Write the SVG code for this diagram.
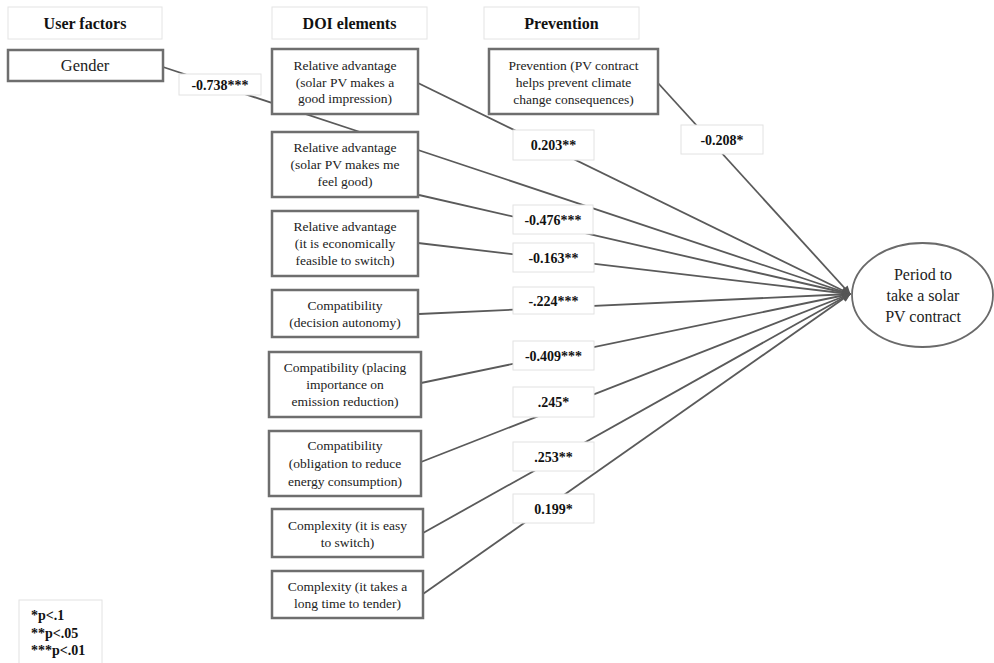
<svg xmlns="http://www.w3.org/2000/svg" width="994" height="663" viewBox="0 0 994 663">
<defs>
<style>
.hdr{fill:#fff;stroke:#e4e4e4;stroke-width:1}
.hdrt{font-family:"Liberation Serif",serif;font-weight:bold;font-size:16px;fill:#111;text-anchor:middle}
.box{fill:#fff;stroke:#6e6e6e;stroke-width:2.5}
.bt{font-family:"Liberation Serif",serif;font-size:13.5px;fill:#222;text-anchor:middle}
.lb{fill:#fff;stroke:#e2e2e2;stroke-width:1}
.lt{font-family:"Liberation Serif",serif;font-weight:bold;font-size:14px;fill:#111;text-anchor:middle}
.ln{stroke:#5a5a5a;stroke-width:1.8;fill:none}
.arr{marker-end:url(#ah)}
</style>
<marker id="ah" markerWidth="9" markerHeight="8" refX="8" refY="4" orient="auto" markerUnits="userSpaceOnUse">
<path d="M0,0 L9,4 L0,8 Z" fill="#555"/>
</marker>
</defs>
<rect width="994" height="663" fill="#fff"/>

<g id="headers">
<rect class="hdr" x="8" y="7" width="154" height="32"/>
<text class="hdrt" x="85" y="29">User factors</text>
<rect class="hdr" x="272" y="7" width="155" height="32"/>
<text class="hdrt" x="349.5" y="29">DOI elements</text>
<rect class="hdr" x="484" y="7" width="155" height="32"/>
<text class="hdrt" x="561.5" y="29">Prevention</text>
</g>

<g id="connectors">
<line class="ln" x1="163" y1="67" x2="360" y2="132"/>
<line class="ln arr" x1="418" y1="83" x2="850" y2="294"/>
<line class="ln arr" x1="418" y1="150" x2="850" y2="294"/>
<line class="ln arr" x1="419" y1="195" x2="850" y2="294"/>
<line class="ln arr" x1="418" y1="243" x2="850" y2="294"/>
<line class="ln arr" x1="419" y1="314" x2="850" y2="294"/>
<line class="ln arr" x1="421" y1="383" x2="850" y2="294"/>
<line class="ln arr" x1="421" y1="462" x2="850" y2="294"/>
<line class="ln arr" x1="423" y1="533" x2="850" y2="294"/>
<line class="ln arr" x1="423" y1="594" x2="850" y2="294"/>
<line class="ln arr" x1="658" y1="83" x2="850" y2="294"/>
</g>

<g id="gender">
<rect class="box" x="8" y="50" width="155" height="31"/>
<text x="85" y="71" style="font-family:'Liberation Serif',serif;font-size:16.5px;fill:#222;text-anchor:middle">Gender</text>
</g>

<g id="ra1">
<rect class="box" x="272" y="49" width="146" height="65"/>
<text class="bt" x="345" y="70">Relative advantage</text>
<text class="bt" x="345" y="86.5">(solar PV makes a</text>
<text class="bt" x="345" y="103">good impression)</text>
</g>

<g id="ra2">
<rect class="box" x="272" y="132" width="146" height="65"/>
<text class="bt" x="345" y="152">Relative advantage</text>
<text class="bt" x="345" y="169">(solar PV makes me</text>
<text class="bt" x="345" y="186">feel good)</text>
</g>

<g id="ra3">
<rect class="box" x="272" y="211" width="146" height="65"/>
<text class="bt" x="345" y="231">Relative advantage</text>
<text class="bt" x="345" y="248">(it is economically</text>
<text class="bt" x="345" y="265">feasible to switch)</text>
</g>

<g id="comp1">
<rect class="box" x="272" y="290" width="146" height="47"/>
<text class="bt" x="345" y="309.5">Compatibility</text>
<text class="bt" x="345" y="327">(decision autonomy)</text>
</g>

<g id="comp2">
<rect class="box" x="269" y="352" width="152" height="65"/>
<text class="bt" x="345" y="372">Compatibility (placing</text>
<text class="bt" x="345" y="389">importance on</text>
<text class="bt" x="345" y="406">emission reduction)</text>
</g>

<g id="comp3">
<rect class="box" x="269" y="431" width="152" height="65"/>
<text class="bt" x="345" y="450">Compatibility</text>
<text class="bt" x="345" y="467.5">(obligation to reduce</text>
<text class="bt" x="345" y="485.5">energy consumption)</text>
</g>

<g id="cx1">
<rect class="box" x="272" y="509" width="151" height="48"/>
<text class="bt" x="347.5" y="529.5">Complexity (it is easy</text>
<text class="bt" x="347.5" y="546.5">to switch)</text>
</g>

<g id="cx2">
<rect class="box" x="272" y="571" width="151" height="47"/>
<text class="bt" x="347.5" y="590.5">Complexity (it takes a</text>
<text class="bt" x="347.5" y="607.5">long time to tender)</text>
</g>

<g id="prevention">
<rect class="box" x="489" y="49" width="169" height="65"/>
<text class="bt" x="573.5" y="69.5">Prevention (PV contract</text>
<text class="bt" x="573.5" y="86.5">helps prevent climate</text>
<text class="bt" x="573.5" y="104">change consequences)</text>
</g>

<g id="outcome">
<ellipse cx="922.5" cy="295" rx="70.5" ry="52" fill="#fff" stroke="#6a6a6a" stroke-width="1.8"/>
<text x="923" y="280" style="font-family:'Liberation Serif',serif;font-size:16px;fill:#222;text-anchor:middle">Period to</text>
<text x="923" y="301" style="font-family:'Liberation Serif',serif;font-size:16px;fill:#222;text-anchor:middle">take a solar</text>
<text x="923" y="322" style="font-family:'Liberation Serif',serif;font-size:16px;fill:#222;text-anchor:middle">PV contract</text>
</g>

<g id="labels">
<rect class="lb" x="179" y="74" width="82" height="21"/>
<text class="lt" x="220" y="89.5">-0.738***</text>
<rect class="lb" x="513" y="130" width="81" height="30"/>
<text class="lt" x="553.5" y="150">0.203**</text>
<rect class="lb" x="513" y="205" width="80" height="29"/>
<text class="lt" x="553" y="224.5">-0.476***</text>
<rect class="lb" x="513" y="243" width="81" height="29"/>
<text class="lt" x="553.5" y="262.5">-0.163**</text>
<rect class="lb" x="513" y="287" width="81" height="27"/>
<text class="lt" x="553.5" y="305.5">-.224***</text>
<rect class="lb" x="513" y="341" width="81" height="29"/>
<text class="lt" x="553.5" y="360.5">-0.409***</text>
<rect class="lb" x="513" y="387" width="81" height="30"/>
<text class="lt" x="553.5" y="407">.245*</text>
<rect class="lb" x="513" y="442" width="81" height="29"/>
<text class="lt" x="553.5" y="461.5">.253**</text>
<rect class="lb" x="513" y="494" width="81" height="29"/>
<text class="lt" x="553.5" y="513.5">0.199*</text>
<rect class="lb" x="681" y="125" width="82" height="29"/>
<text class="lt" x="722" y="144.5">-0.208*</text>
</g>

<g id="legend">
<rect class="lb" x="19" y="600" width="83" height="70"/>
<text class="lt" x="31" y="620" style="text-anchor:start">*p&lt;.1</text>
<text class="lt" x="31" y="637.5" style="text-anchor:start">**p&lt;.05</text>
<text class="lt" x="31" y="655" style="text-anchor:start">***p&lt;.01</text>
</g>
</svg>
